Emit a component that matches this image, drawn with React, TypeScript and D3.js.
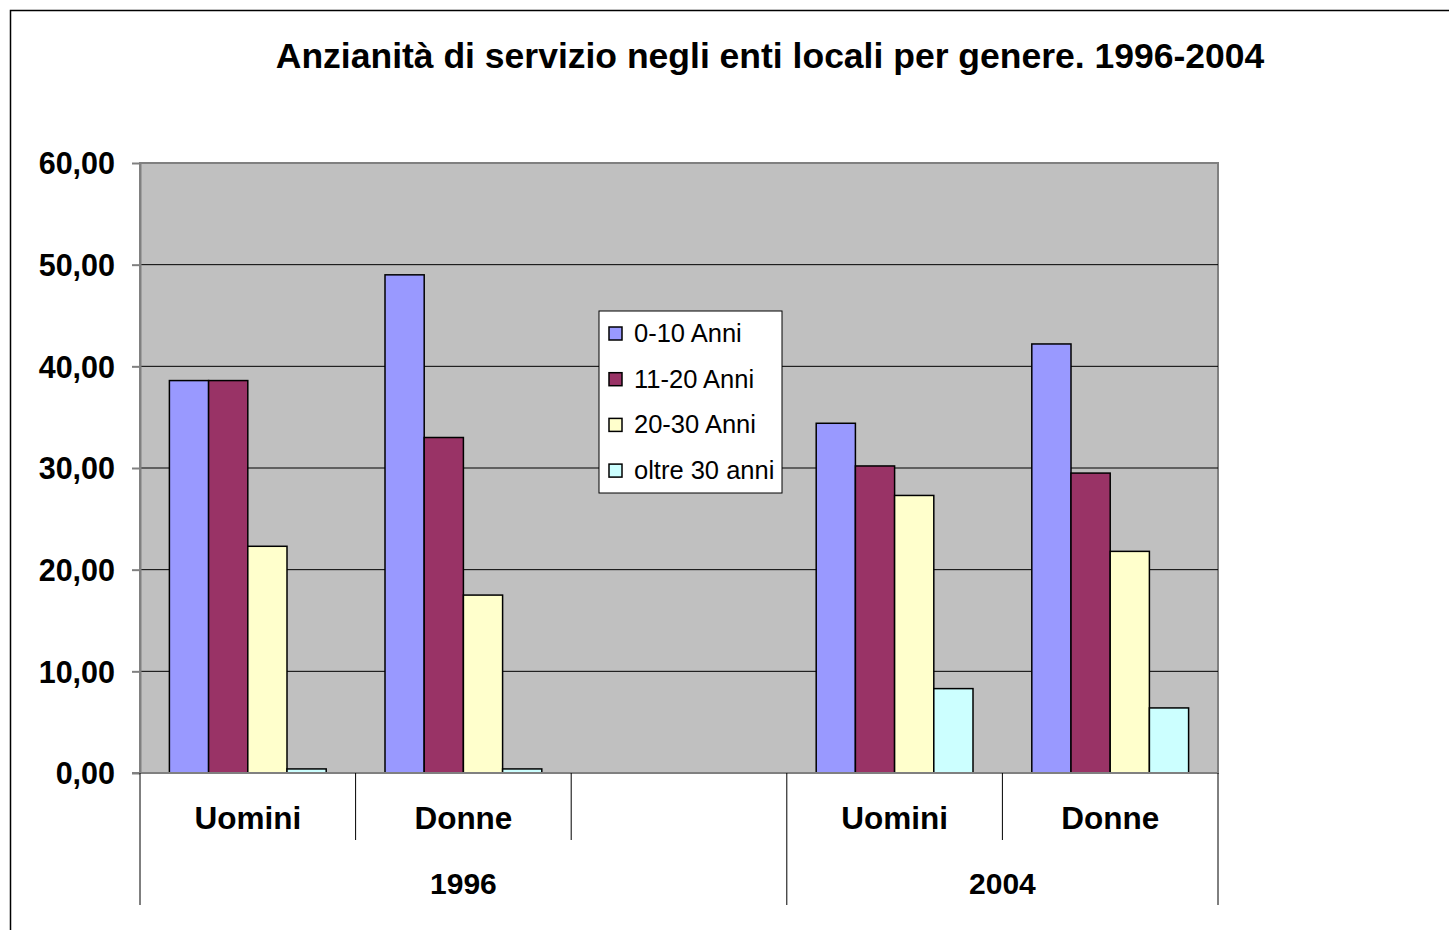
import React, { useEffect, useRef } from 'react';
import * as d3 from 'd3';

const title = 'Anzianità di servizio negli enti locali per genere. 1996-2004';
const series = ['0-10 Anni', '11-20 Anni', '20-30 Anni', 'oltre 30 anni'];
const colors = ['#9999FF', '#993366', '#FFFFCC', '#CCFFFF'];
const slots = ['1996|Uomini', '1996|Donne', '1996|', '2004|Uomini', '2004|Donne'];
const years = ['1996', '2004'];
const uomini1996 = [38.6, 38.6, 22.3, 0.4];
const donne1996 = [49.0, 33.0, 17.5, 0.4];
const uomini2004 = [34.4, 30.2, 27.3, 8.3];
const donne2004 = [42.2, 29.5, 21.8, 6.4];
const values: Record<string, number[]> = {
  '1996|Uomini': uomini1996,
  '1996|Donne': donne1996,
  '2004|Uomini': uomini2004,
  '2004|Donne': donne2004,
};
const yTicks = [0, 10, 20, 30, 40, 50, 60];

const it = d3.formatLocale({ decimal: ',', thousands: '.', grouping: [3], currency: ['', '€'] });
const fmt = it.format('.2f');
const FONT = '"Liberation Sans", Arial, sans-serif';

export default function App() {
  const ref = useRef<SVGSVGElement>(null);

  useEffect(() => {
    const svg = d3.select(ref.current);
    svg.selectAll('*').remove();

    const left = 140, right = 1218, top = 163, bottom = 773;

    // chart frame
    svg.append('rect').attr('width', 1449).attr('height', 930).attr('fill', '#fff');
    svg.append('path').attr('d', 'M10.5,930V10.5H1449').attr('fill', 'none').attr('stroke', '#000').attr('stroke-width', 1.5);

    svg.append('text')
      .attr('x', 770).attr('y', 68)
      .attr('text-anchor', 'middle')
      .attr('font-family', FONT).attr('font-size', 35.5).attr('font-weight', 'bold')
      .text(title);

    const x = d3.scaleBand().domain(slots).range([left, right]).paddingInner(0).paddingOuter(0);
    const y = d3.scaleLinear().domain([0, 60]).range([bottom, top]);
    const inner = d3.scaleBand().domain(series).range([0, x.bandwidth()]).paddingOuter(0.75).paddingInner(0);

    svg.append('rect')
      .attr('x', left).attr('y', top).attr('width', right - left).attr('height', bottom - top)
      .attr('fill', '#C0C0C0').attr('stroke', '#808080').attr('stroke-width', 2);

    svg.append('g').selectAll('line').data(yTicks.filter(d => d > 0 && d < 60)).join('line')
      .attr('x1', left).attr('x2', right)
      .attr('y1', d => y(d)).attr('y2', d => y(d))
      .attr('stroke', '#000').attr('stroke-width', 1);

    // bars
    const groups = svg.append('g').selectAll('g')
      .data(slots.filter(s => values[s]))
      .join('g')
      .attr('transform', s => `translate(${x(s)},0)`);
    groups.selectAll('rect')
      .data(s => values[s].map((v, i) => ({ v, i })))
      .join('rect')
      .attr('x', d => inner(series[d.i])!)
      .attr('y', d => y(d.v))
      .attr('width', inner.bandwidth())
      .attr('height', d => bottom - y(d.v))
      .attr('fill', d => colors[d.i])
      .attr('stroke', '#000').attr('stroke-width', 1.5);

    // y axis
    const yAxis = svg.append('g').attr('transform', `translate(${left},0)`)
      .call(d3.axisLeft(y).tickValues(yTicks).tickFormat(d => fmt(d as number)).tickSize(8).tickSizeOuter(0));
    yAxis.select('.domain').attr('stroke', '#808080').attr('stroke-width', 2);
    yAxis.selectAll('.tick line').attr('stroke', '#808080').attr('stroke-width', 2);
    yAxis.selectAll('.tick text')
      .attr('x', -25).attr('dy', '0.35em')
      .attr('font-family', FONT).attr('font-size', 30.5).attr('font-weight', 'bold').attr('fill', '#000');

    // x axis line
    svg.append('line').attr('x1', left - 8).attr('x2', right).attr('y1', bottom).attr('y2', bottom)
      .attr('stroke', '#808080').attr('stroke-width', 2);

    // category separators
    const bounds = slots.map(s => x(s)!).concat([right]);
    bounds.forEach((b, i) => {
      const outer = i === 0 || i === bounds.length - 1 || slots[i].startsWith('2004') && !slots[i - 1].startsWith('2004');
      svg.append('line')
        .attr('x1', b).attr('x2', b)
        .attr('y1', bottom).attr('y2', outer ? 905 : 840)
        .attr('stroke', '#000').attr('stroke-width', 1);
    });

    svg.append('g').selectAll('text')
      .data(slots.filter(s => s.split('|')[1]))
      .join('text')
      .attr('x', s => x(s)! + x.bandwidth() / 2)
      .attr('y', 829)
      .attr('text-anchor', 'middle')
      .attr('font-family', FONT).attr('font-size', 31.5).attr('font-weight', 'bold')
      .text(s => s.split('|')[1]);

    svg.append('g').selectAll('text')
      .data(years)
      .join('text')
      .attr('x', yr => {
        const ss = slots.filter(s => s.startsWith(yr));
        return (x(ss[0])! + x(ss[ss.length - 1])! + x.bandwidth()) / 2;
      })
      .attr('y', 894)
      .attr('text-anchor', 'middle')
      .attr('font-family', FONT).attr('font-size', 30).attr('font-weight', 'bold')
      .text(d => d);

    // legend
    const lg = svg.append('g').attr('transform', 'translate(599,311)');
    lg.append('rect').attr('width', 183).attr('height', 182)
      .attr('fill', '#fff').attr('stroke', '#000').attr('stroke-width', 1);
    const item = lg.selectAll('g.item').data(series).join('g')
      .attr('class', 'item')
      .attr('transform', (d, i) => `translate(0,${22 + i * 45.7})`);
    item.append('rect')
      .attr('x', 10).attr('y', -6).attr('width', 13).attr('height', 13)
      .attr('fill', (d, i) => colors[i]).attr('stroke', '#000').attr('stroke-width', 1.5);
    item.append('text')
      .attr('x', 35).attr('y', 0).attr('dy', '0.35em')
      .attr('font-family', FONT).attr('font-size', 25.5)
      .text(d => d);
  }, []);

  return (
    <svg ref={ref} width={1449} height={930}
      style={{ position: 'absolute', top: 0, left: 0, display: 'block' }} />
  );
}
